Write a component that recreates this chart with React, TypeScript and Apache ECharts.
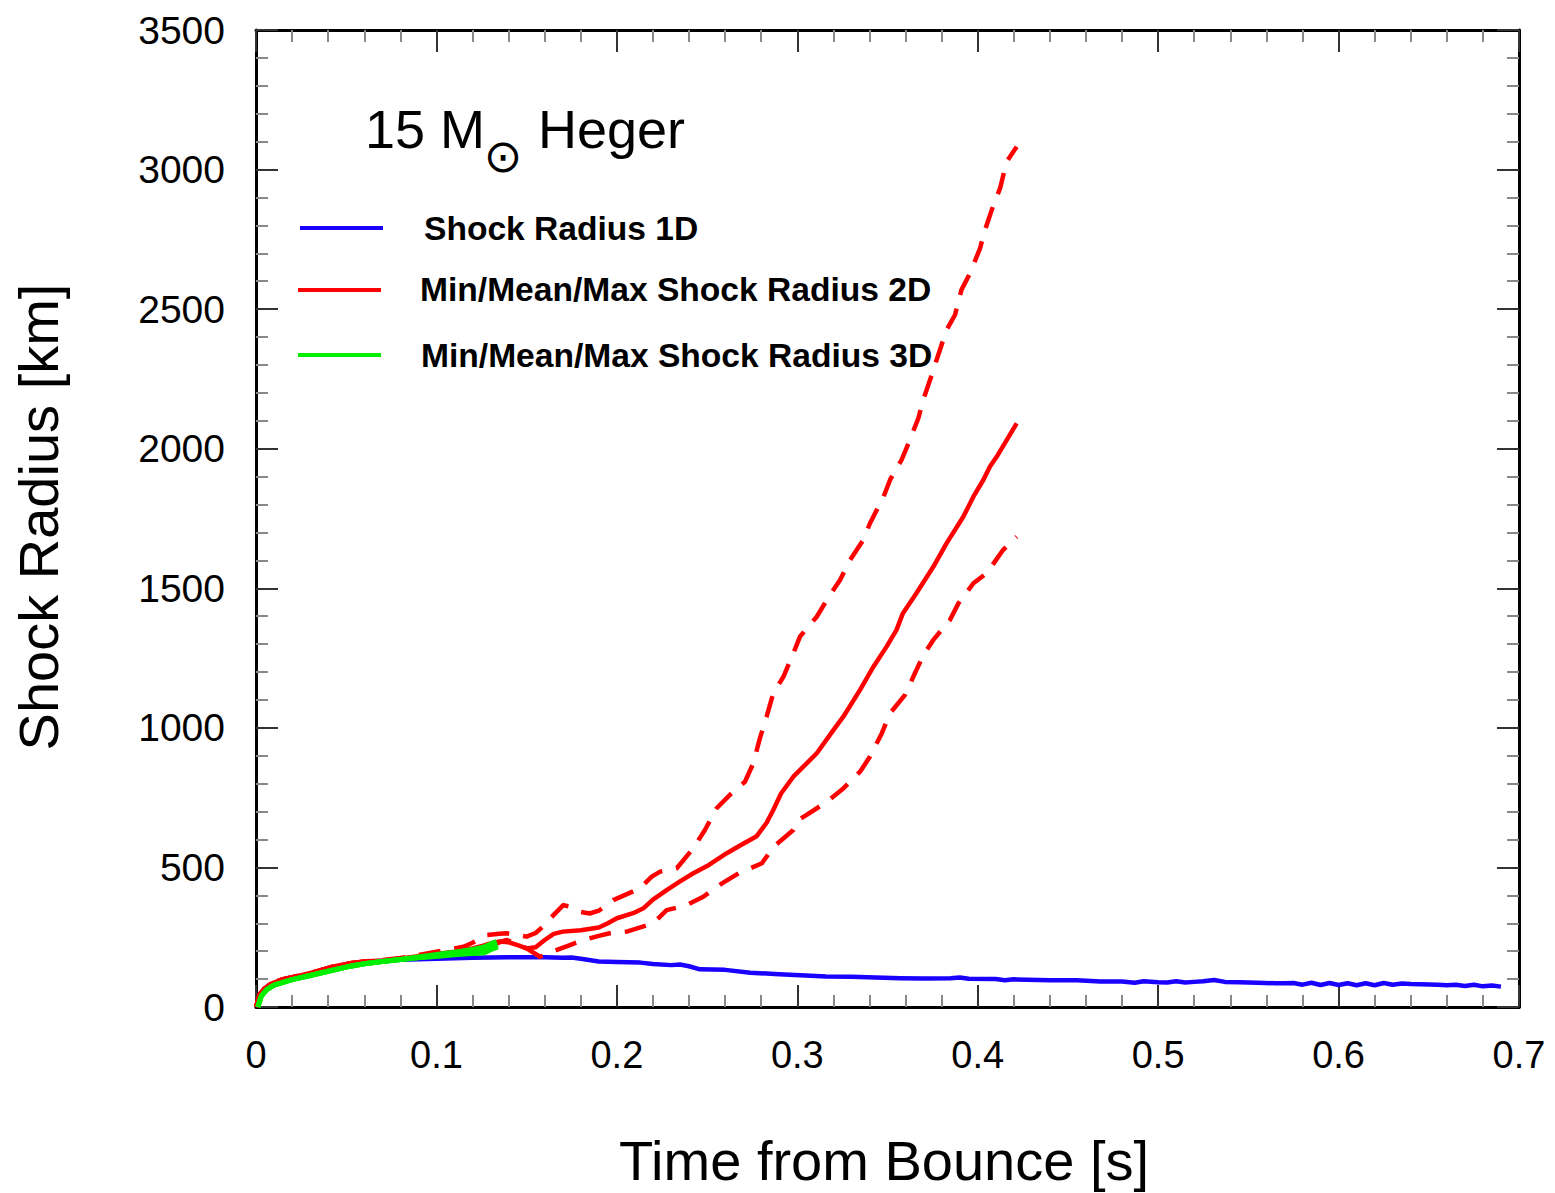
import React, { useEffect, useRef } from "react";
import * as echarts from "echarts";

// [time from bounce (s), shock radius (km)]
const shock1D: [number, number][] = [
  [0, 0], [0.0022, 43], [0.005, 65], [0.0078, 79], [0.0151, 97], [0.0244, 109], [0.0336, 126], [0.0428, 142],
  [0.052, 156], [0.0614, 162], [0.0706, 166], [0.08, 169], [0.09, 171], [0.1, 173], [0.11, 175], [0.12, 176],
  [0.13, 177], [0.14, 178], [0.15, 178], [0.16, 178], [0.17, 176], [0.175, 177], [0.18, 173], [0.19, 163],
  [0.2, 161], [0.213, 159], [0.22, 154], [0.23, 150], [0.235, 152], [0.24, 146], [0.246, 135], [0.26, 133],
  [0.274, 123], [0.29, 117], [0.316, 109], [0.33, 108], [0.357, 103], [0.37, 102], [0.385, 103], [0.39, 106],
  [0.395, 101], [0.41, 100], [0.415, 96], [0.42, 99], [0.44, 96], [0.455, 96], [0.468, 91], [0.48, 91],
  [0.487, 87], [0.492, 92], [0.5, 89], [0.505, 88], [0.51, 92], [0.515, 88], [0.52, 90], [0.525, 92],
  [0.531, 97], [0.537, 90], [0.545, 89], [0.555, 87], [0.565, 85], [0.57, 85], [0.575, 86], [0.58, 80],
  [0.585, 87], [0.59, 79], [0.595, 86], [0.6, 79], [0.605, 85], [0.61, 78], [0.615, 85], [0.62, 78],
  [0.625, 86], [0.63, 80], [0.635, 84], [0.64, 82], [0.65, 81], [0.655, 80], [0.66, 78], [0.665, 80],
  [0.67, 75], [0.675, 80], [0.68, 74], [0.685, 77], [0.69, 73],
];

const mean2D: [number, number][] = [
  [0, 0], [0.002, 45], [0.005, 68], [0.0078, 82], [0.015, 100], [0.024, 112], [0.034, 128], [0.043, 145],
  [0.052, 157], [0.06, 163], [0.07, 167], [0.08, 174], [0.09, 182], [0.1, 190], [0.11, 198], [0.12, 210],
  [0.126, 220], [0.13, 228], [0.135, 235], [0.14, 232], [0.145, 222], [0.15, 210], [0.155, 214], [0.16, 240],
  [0.165, 262], [0.17, 270], [0.18, 275], [0.19, 285], [0.195, 300], [0.2, 318], [0.209, 336], [0.215, 355],
  [0.22, 385], [0.2276, 419], [0.235, 450], [0.2424, 479], [0.25, 505], [0.2609, 551], [0.27, 585],
  [0.2775, 612], [0.283, 660], [0.2867, 706], [0.291, 765], [0.2978, 825], [0.3108, 909], [0.32, 992],
  [0.3255, 1040], [0.3348, 1136], [0.3422, 1219], [0.3495, 1291], [0.355, 1351], [0.3585, 1410],
  [0.366, 1482], [0.3754, 1577], [0.3827, 1661], [0.392, 1756], [0.3976, 1828], [0.4031, 1888],
  [0.4068, 1936], [0.4105, 1971], [0.4216, 2091],
];

const max2D: [number, number][] = [
  [0, 0], [0.002, 45], [0.005, 68], [0.0078, 82], [0.015, 100], [0.024, 112], [0.034, 128], [0.043, 145],
  [0.052, 157], [0.06, 163], [0.07, 168], [0.08, 176], [0.09, 186], [0.1, 198], [0.11, 210], [0.115, 216],
  [0.12, 230], [0.128, 258], [0.135, 262], [0.139, 264], [0.145, 258], [0.15, 252], [0.155, 265],
  [0.159, 288], [0.165, 330], [0.1703, 365], [0.175, 358], [0.1796, 341], [0.185, 335], [0.19, 345],
  [0.198, 383], [0.2128, 425], [0.2193, 467], [0.224, 485], [0.2332, 497], [0.2424, 569], [0.2488, 634],
  [0.2553, 712], [0.2636, 766], [0.271, 807], [0.2756, 873], [0.2793, 963], [0.283, 1040], [0.2867, 1124],
  [0.2923, 1183], [0.2978, 1267], [0.3015, 1327], [0.3108, 1398], [0.3163, 1458], [0.3237, 1530],
  [0.3292, 1601], [0.3366, 1673], [0.3403, 1733], [0.3478, 1828], [0.3514, 1888], [0.3578, 1960],
  [0.3616, 2019], [0.3671, 2109], [0.3698, 2175], [0.3745, 2264], [0.3772, 2318], [0.3827, 2425],
  [0.3874, 2479], [0.391, 2569], [0.3957, 2628], [0.4013, 2718], [0.404, 2783], [0.4087, 2873],
  [0.4124, 2933], [0.416, 3028], [0.4216, 3082],
];

const min2D: [number, number][] = [
  [0, 0], [0.002, 45], [0.005, 68], [0.0078, 82], [0.015, 100], [0.024, 112], [0.034, 128], [0.043, 145],
  [0.052, 157], [0.06, 162], [0.07, 166], [0.08, 172], [0.09, 178], [0.1, 185], [0.11, 192], [0.12, 203],
  [0.1297, 216], [0.135, 232], [0.139, 240], [0.145, 225], [0.15, 210], [0.1574, 180], [0.165, 200],
  [0.174, 222], [0.1814, 240], [0.19, 255], [0.196, 264], [0.2055, 270], [0.2202, 300], [0.2276, 347],
  [0.2387, 365], [0.2479, 395], [0.2583, 443], [0.2675, 479], [0.2804, 515], [0.2869, 574], [0.2978, 634],
  [0.3006, 670], [0.3052, 688], [0.3163, 735], [0.3255, 783], [0.3348, 843], [0.3403, 897], [0.3468, 980],
  [0.3514, 1052], [0.3597, 1118], [0.3643, 1183], [0.3699, 1261], [0.3754, 1315], [0.3846, 1386],
  [0.3893, 1446], [0.3976, 1518], [0.405, 1554], [0.414, 1637], [0.4216, 1685],
];

const mean3D: [number, number][] = [
  [0.001, 0], [0.003, 40], [0.006, 62], [0.01, 78], [0.02, 98], [0.03, 113], [0.04, 128], [0.05, 143],
  [0.06, 155], [0.07, 163], [0.08, 170], [0.09, 177], [0.1, 184], [0.11, 191], [0.115, 194], [0.12, 199],
  [0.125, 206], [0.13, 214], [0.134, 222],
];
const max3D: [number, number][] = [
  [0.001, 0], [0.003, 40], [0.006, 62], [0.01, 78], [0.02, 98], [0.03, 113], [0.04, 128], [0.05, 143],
  [0.06, 155], [0.07, 163], [0.08, 170], [0.09, 179], [0.1, 188], [0.11, 196], [0.12, 206], [0.126, 214],
  [0.13, 226], [0.1334, 234],
];
const min3D: [number, number][] = [
  [0.001, 0], [0.003, 40], [0.006, 62], [0.01, 78], [0.02, 98], [0.03, 113], [0.04, 128], [0.05, 143],
  [0.06, 155], [0.07, 163], [0.08, 170], [0.09, 176], [0.1, 181], [0.11, 187], [0.12, 192], [0.126, 193],
  [0.13, 205], [0.134, 215],
];

const legendLabels = [
  "Shock Radius 1D",
  "Min/Mean/Max Shock Radius 2D",
  "Min/Mean/Max Shock Radius 3D",
];
const xAxisTitle = "Time from Bounce [s]";
const yAxisTitle = "Shock Radius [km]";

const FONT = "'Liberation Sans', Arial, Helvetica, sans-serif";
const BLUE = "#1a00ff";
const RED = "#ff0000";
const GREEN = "#00ee00";

export default function App() {
  const ref = useRef<HTMLDivElement>(null);

  useEffect(() => {
    document.body.style.margin = "0";
    if (!ref.current) return;
    const chart = echarts.init(ref.current, undefined, { renderer: "svg" });

    const baseX = (pos: "bottom" | "top", labels: boolean) => ({
      type: "value",
      position: pos,
      min: 0,
      max: 0.7,
      interval: 0.1,
      axisLine: { show: true, onZero: false, lineStyle: { color: "#000", width: 3 } },
      axisTick: { show: true, inside: true, length: 22, lineStyle: { color: "#333", width: 2 } },
      minorTick: { show: true, splitNumber: 5, length: 12, lineStyle: { color: "#888", width: 2 } },
      splitLine: { show: false },
      minorSplitLine: { show: false },
      axisLabel: {
        show: labels,
        margin: 29,
        fontSize: 38,
        color: "#000",
        fontFamily: FONT,
        formatter: (v: number) => (v === 0 ? "0" : v.toFixed(1)),
      },
    });
    const baseY = (pos: "left" | "right", labels: boolean) => ({
      type: "value",
      position: pos,
      min: 0,
      max: 3500,
      interval: 500,
      axisLine: { show: true, onZero: false, lineStyle: { color: "#000", width: 3 } },
      axisTick: { show: true, inside: true, length: 22, lineStyle: { color: "#333", width: 2 } },
      minorTick: { show: true, splitNumber: 5, length: 12, lineStyle: { color: "#888", width: 2 } },
      splitLine: { show: false },
      minorSplitLine: { show: false },
      axisLabel: {
        show: labels,
        margin: 31,
        fontSize: 39,
        color: "#000",
        fontFamily: FONT,
        formatter: (v: number) => String(Math.round(v)),
      },
    });

    const line = (name: string, data: [number, number][], color: string, width: number, dashed: boolean) => ({
      name,
      type: "line",
      xAxisIndex: 0,
      yAxisIndex: 0,
      data,
      showSymbol: false,
      symbol: "none",
      smooth: false,
      lineStyle: { color, width, type: dashed ? [22, 14] : "solid", cap: "butt", join: "round" },
      z: 3,
    });

    chart.setOption({
      animation: false,
      backgroundColor: "#fff",
      grid: { left: 256, right: 36, top: 30, bottom: 186, containLabel: false },
      xAxis: [baseX("bottom", true), baseX("top", false)],
      yAxis: [baseY("left", true), baseY("right", false)],
      series: [
        line(legendLabels[0], shock1D, BLUE, 4.5, false),
        line(legendLabels[1], max2D, RED, 4.5, true),
        line(legendLabels[1], min2D, RED, 4.5, true),
        line(legendLabels[1], mean2D, RED, 4.5, false),
        line(legendLabels[2], max3D, GREEN, 5, false),
        line(legendLabels[2], min3D, GREEN, 5, false),
        line(legendLabels[2], mean3D, GREEN, 5, false),
      ],
      graphic: [
        { type: "text", x: 365, y: 129, style: { text: "15 M", font: `54px ${FONT}`, fill: "#000", textAlign: "left", textVerticalAlign: "middle" } },
        { type: "text", x: 503, y: 156, style: { text: "⊙", font: `46px 'DejaVu Sans', sans-serif`, fill: "#000", textAlign: "center", textVerticalAlign: "middle" } },
        { type: "text", x: 538, y: 129, style: { text: "Heger", font: `54px ${FONT}`, fill: "#000", textAlign: "left", textVerticalAlign: "middle" } },

        { type: "line", shape: { x1: 300, y1: 228, x2: 383, y2: 228 }, style: { stroke: BLUE, lineWidth: 4 } },
        { type: "text", x: 424, y: 228, style: { text: legendLabels[0], font: `bold 33.6px ${FONT}`, fill: "#000", textAlign: "left", textVerticalAlign: "middle" } },
        { type: "line", shape: { x1: 298, y1: 290, x2: 381, y2: 290 }, style: { stroke: RED, lineWidth: 4 } },
        { type: "text", x: 420, y: 289, style: { text: legendLabels[1], font: `bold 33.6px ${FONT}`, fill: "#000", textAlign: "left", textVerticalAlign: "middle" } },
        { type: "line", shape: { x1: 298, y1: 355, x2: 381, y2: 355 }, style: { stroke: GREEN, lineWidth: 4 } },
        { type: "text", x: 421, y: 355, style: { text: legendLabels[2], font: `bold 33.6px ${FONT}`, fill: "#000", textAlign: "left", textVerticalAlign: "middle" } },

        { type: "text", x: 884, y: 1160, style: { text: xAxisTitle, font: `56px ${FONT}`, fill: "#000", textAlign: "center", textVerticalAlign: "middle" } },
        { type: "text", x: 38, y: 517, rotation: Math.PI / 2, style: { text: yAxisTitle, font: `56px ${FONT}`, fill: "#000", textAlign: "center", textVerticalAlign: "middle" } },
      ],
    });

    return () => chart.dispose();
  }, []);

  return <div ref={ref} style={{ width: 1555, height: 1193 }} />;
}
